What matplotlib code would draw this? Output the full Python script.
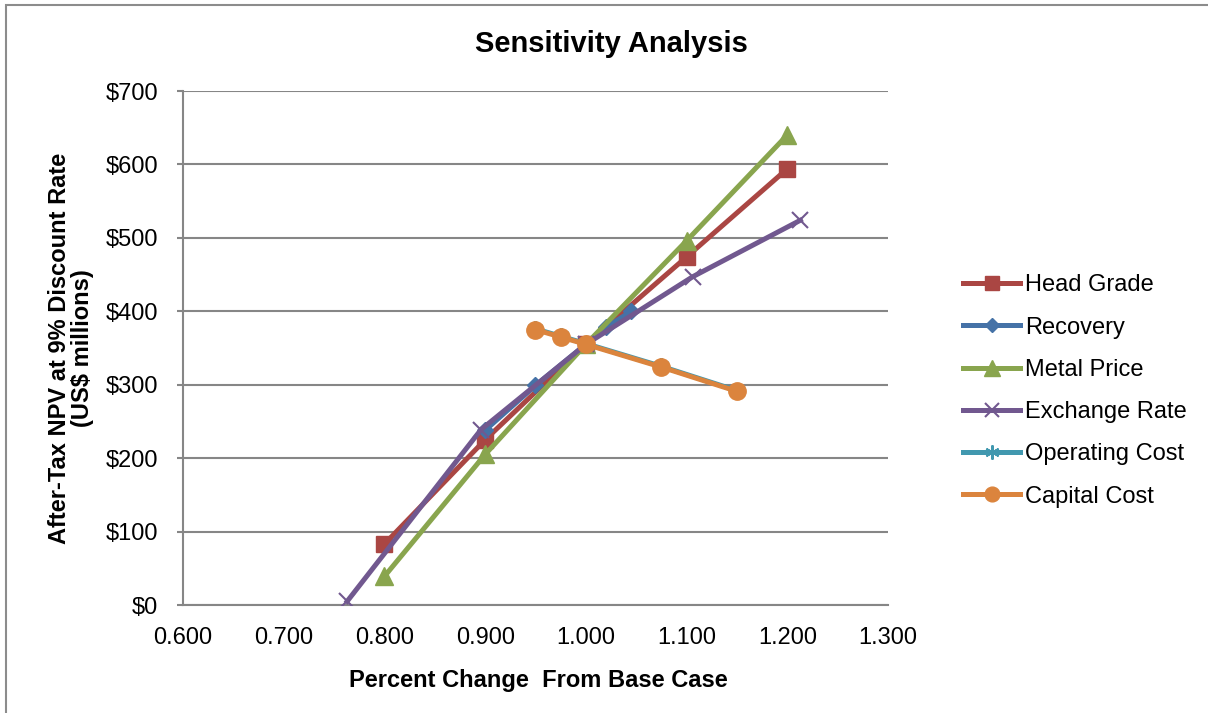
import matplotlib
matplotlib.use("Agg")
from matplotlib import pyplot as plt
from matplotlib.patches import Rectangle
from matplotlib.ticker import FuncFormatter

plt.rcParams['font.family'] = ['Liberation Sans', 'DejaVu Sans']

# data
head_x = [0.800, 0.900, 1.000, 1.100, 1.200]
head_y = [83, 225, 355, 474, 594]

recovery_x = [0.900, 0.950, 1.000, 1.020, 1.045]
recovery_y = [238, 299, 355, 378, 400]

metal_x = [0.800, 0.900, 1.000, 1.100, 1.200]
metal_y = [39, 205, 355, 496, 640]

exchange_x = [0.763, 0.896, 1.000, 1.106, 1.213]
exchange_y = [5, 239, 355, 447, 524]

opcost_x = [0.950, 0.975, 1.000, 1.075, 1.150]
opcost_y = [376, 366, 356, 325, 292]

capcost_x = [0.950, 0.975, 1.000, 1.075, 1.150]
capcost_y = [375, 365, 355, 324, 291]

x_ticks = [0.6, 0.7, 0.8, 0.9, 1.0, 1.1, 1.2, 1.3]
y_ticks = [0, 100, 200, 300, 400, 500, 600, 700]

fig = plt.figure(figsize=(12.08, 7.13), dpi=100, facecolor='w')
fig.patches.append(Rectangle((6 / 1208, -0.01), 1.1, 1 - 5 / 713 + 0.01,
                             transform=fig.transFigure, fill=False,
                             edgecolor='#8c8c8c', linewidth=1.5))
ax = fig.add_axes([183 / 1208, 108 / 713, 705 / 1208, 514 / 713])

lw = 3.6
ax.plot(head_x, head_y, color='#AA4643', lw=lw, marker='s', ms=11.5, label='Head Grade', zorder=3)
ax.plot(recovery_x, recovery_y, color='#4572A7', lw=lw, marker='D', ms=8.5, label='Recovery', zorder=3)
ax.plot(metal_x, metal_y, color='#89A54E', lw=lw, marker='^', ms=13, label='Metal Price', zorder=3)
ax.plot(exchange_x, exchange_y, color='#71588F', lw=lw, marker='x', ms=12, mew=1.5, label='Exchange Rate', zorder=3)
ax.plot(opcost_x, opcost_y, color='#4198AF', lw=lw, marker=(6, 2, 0), ms=12, mew=1.5, label='Operating Cost', zorder=3)
ax.plot(capcost_x, capcost_y, color='#DB843D', lw=lw, marker='o', ms=12.5, label='Capital Cost', zorder=3)

ax.set_xlim(0.6, 1.3)
ax.set_ylim(0, 700)
ax.set_xticks(x_ticks)
ax.set_yticks(y_ticks)
ax.xaxis.set_major_formatter(FuncFormatter(lambda v, p: '%.3f' % v))
ax.yaxis.set_major_formatter(FuncFormatter(lambda v, p: '$%d' % v))
ax.tick_params(labelsize=17, length=4, color='#868686', width=1.5)
ax.tick_params(axis='y', pad=14)
ax.tick_params(axis='x', length=0, pad=15.5)

ax.grid(axis='y', color='#868686', linewidth=1.5)
ax.set_axisbelow(True)
for side in ['top', 'right']:
    ax.spines[side].set_visible(False)
for side in ['left', 'bottom']:
    ax.spines[side].set_color('#868686')
    ax.spines[side].set_linewidth(1.5)

fig.text(611 / 1208, 1 - 44 / 713, 'Sensitivity Analysis', ha='center', va='center',
         fontsize=21, fontweight='bold')
fig.text(538 / 1208, 1 - 680 / 713, 'Percent Change  From Base Case', ha='center', va='center',
         fontsize=17, fontweight='bold')
fig.text(71 / 1208, 1 - 348 / 713, 'After-Tax NPV at 9% Discount Rate\n(US$ millions)',
         ha='center', va='center', rotation=90, fontsize=17, fontweight='bold',
         linespacing=0.95)

fig.legend(loc='center left', bbox_to_anchor=(954 / 1208, 1 - 391 / 713), frameon=False,
           fontsize=17, handlelength=2.4, handletextpad=0.2, labelspacing=0.86,
           borderaxespad=0, markerscale=0.85)

fig.savefig('out.png', dpi=100, facecolor='w')
